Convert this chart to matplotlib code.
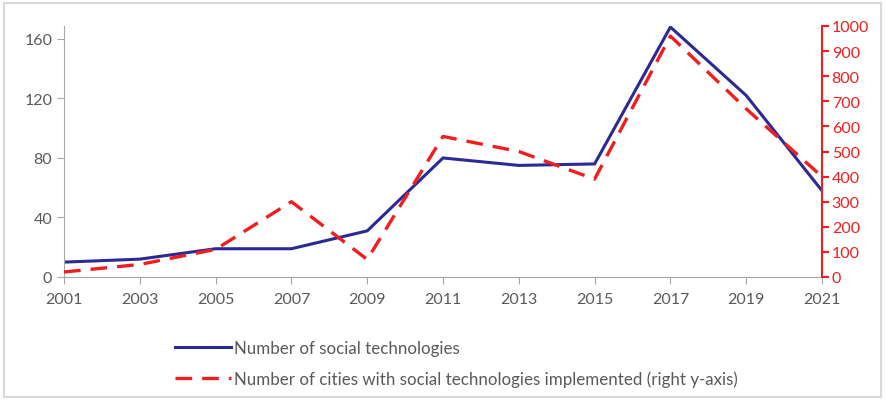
import matplotlib.pyplot as plt
from matplotlib.lines import Line2D
from matplotlib.patches import Rectangle

years = [2001, 2003, 2005, 2007, 2009, 2011, 2013, 2015, 2017, 2019, 2021]
technologies = [10, 12, 19, 19, 31, 80, 75, 76, 168, 122, 58]
cities = [20, 50, 110, 300, 70, 560, 500, 390, 960, 670, 400]

blue = '#2B2A94'
red = '#F01E1E'
grey = '#595959'

plt.rcParams['font.family'] = ['Lato', 'DejaVu Sans']

fig = plt.figure(figsize=(8.85, 4.02), dpi=100)
ax = fig.add_axes([64 / 885, 1 - 278 / 402, (822 - 64) / 885, (278 - 27) / 402])
ax2 = ax.twinx()

ax.plot(years, technologies, color=blue, lw=2.2, solid_joinstyle='miter')
ax2.plot(years, cities, color=red, lw=2.4, dashes=(5, 3))

ax.set_xlim(2001, 2021)
ax.set_ylim(0, 168.7)
ax2.set_ylim(0, 1000)
ax.set_xticks(years)
ax.set_yticks([0, 40, 80, 120, 160])
ax2.set_yticks(range(0, 1001, 100))

for s in ['top', 'right']:
    ax.spines[s].set_visible(False)
for s in ['top', 'left', 'bottom']:
    ax2.spines[s].set_visible(False)
ax.spines['left'].set_color('#A6A6A6')
ax.spines['bottom'].set_color('#A6A6A6')
ax2.spines['right'].set_color(red)
ax2.spines['right'].set_linewidth(1.5)

ax.tick_params(axis='both', colors='#A6A6A6', labelcolor=grey, labelsize=11.5, length=5)
ax.tick_params(axis='x', pad=6)
ax2.tick_params(axis='y', colors=red, labelcolor=red, labelsize=11.5, length=5, width=1.5, pad=2)

handles = [Line2D([], [], color=blue, lw=2.2),
           Line2D([], [], color=red, lw=2.4, dashes=(5, 3))]
labels = ['Number of social technologies',
          'Number of cities with social technologies implemented (right y-axis)']
fig.legend(handles, labels, loc='upper left', bbox_to_anchor=(160 / 885, 1 - 326 / 402),
           frameon=False, fontsize=12.2, handlelength=3.3, handletextpad=0.15,
           labelspacing=0.85, labelcolor=grey)

# light frame round the figure
fig.add_artist(Rectangle((4 / 885, 4 / 402), 1 - 8 / 885, 1 - 8 / 402,
                         transform=fig.transFigure, fill=False,
                         edgecolor='#D9D9D9', lw=1.5))

fig.savefig('out.png', dpi=100, facecolor='white')
